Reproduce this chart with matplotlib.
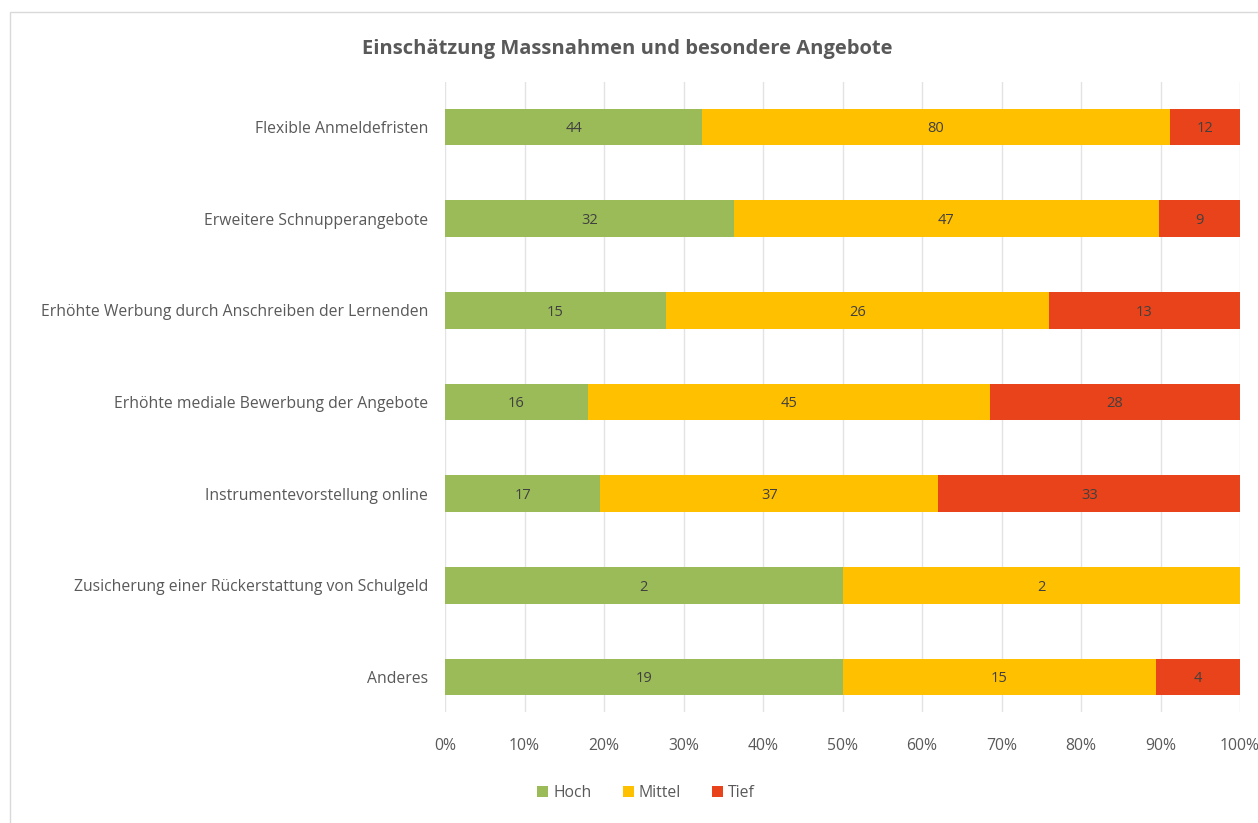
import numpy as np
import matplotlib.pyplot as plt
from matplotlib.patches import Rectangle

categories = ['Flexible Anmeldefristen', 'Erweitere Schnupperangebote',
              'Erhöhte Werbung durch Anschreiben der Lernenden',
              'Erhöhte mediale Bewerbung der Angebote',
              'Instrumentevorstellung online',
              'Zusicherung einer Rückerstattung von Schulgeld', 'Anderes']
hoch = [44, 32, 15, 16, 17, 2, 19]
mittel = [80, 47, 26, 45, 37, 2, 15]
tief = [12, 9, 13, 28, 33, 0, 4]
series_names = ['Hoch', 'Mittel', 'Tief']
colors = ['#9BBB59', '#FFC000', '#E8431A']

plt.rcParams['font.family'] = ['Open Sans', 'DejaVu Sans']

fig = plt.figure(figsize=(12.58, 8.23), dpi=100)
fig.patches.append(Rectangle((10 / 1258, -0.1), 1.0, 1.1 - 12 / 823, transform=fig.transFigure,
                             fill=False, edgecolor='#D9D9D9', linewidth=1))
ax = fig.add_axes([445 / 1258, 1 - 712 / 823, 795 / 1258, 630 / 823])

data = np.array([hoch, mittel, tief], dtype=float)
totals = data.sum(axis=0)
pct = data / totals
y = np.arange(len(categories))
left = np.zeros(len(categories))
for k in range(3):
    ax.barh(y, pct[k], left=left, height=0.4, color=colors[k], label=series_names[k], zorder=3)
    for i in range(len(categories)):
        if data[k, i] > 0:
            ax.text(left[i] + pct[k, i] / 2, y[i] + 0.02, str(int(data[k, i])), ha='center', va='center',
                    fontsize=10.5, color='#404040', zorder=4)
    left += pct[k]

ax.set_ylim(6.38, -0.49)
ax.set_xlim(0, 1)
ax.set_xticks(np.arange(0, 1.01, 0.1))
ax.set_xticklabels([f'{int(round(v * 100))}%' for v in np.arange(0, 1.01, 0.1)])
ax.set_yticks(y)
ax.set_yticklabels(categories)
ax.tick_params(axis='both', length=0, labelsize=11.3, labelcolor='#595959')
ax.tick_params(axis='x', pad=19)
ax.tick_params(axis='y', pad=12)
ax.grid(axis='x', color='#E3E3E3', linewidth=1, zorder=0)
for s in ax.spines.values():
    s.set_visible(False)

fig.text(627 / 1258, 1 - 49 / 823, 'Einschätzung Massnahmen und besondere Angebote', ha='center', va='center',
         fontsize=14.5, fontweight='bold', color='#595959')
fig.legend(loc='center', bbox_to_anchor=(646 / 1258, 1 - 793 / 823), ncol=3, frameon=False,
           fontsize=11.3, handlelength=0.7, handleheight=0.7, handletextpad=0.3, columnspacing=2.0,
           labelcolor='#595959')

fig.savefig('out.png', dpi=100)
